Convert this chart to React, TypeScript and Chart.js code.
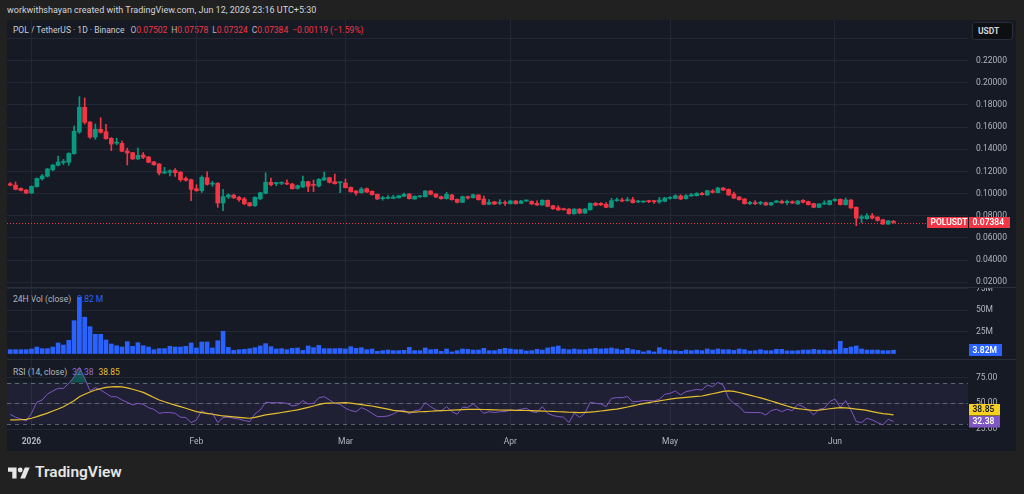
import React, { useEffect, useRef } from 'react';
import { Chart, registerables } from 'chart.js';

Chart.register(...registerables);

// ---------- data (daily candles, day index relative to 1 Jan 2026) ----------
const FIRST_DAY = -4; // 28 Dec 2025

const OPEN = [
  0.1088, 0.1076, 0.1047, 0.1032,
  0.1005, 0.1062, 0.1134, 0.1156, 0.1215, 0.1255, 0.1280, 0.1282, 0.1360, 0.1555,
  0.1778, 0.1645, 0.1510, 0.1580, 0.1558, 0.1498, 0.1455, 0.1453, 0.1384, 0.1369,
  0.1312, 0.1348, 0.1330, 0.1285, 0.1267, 0.1185, 0.1192, 0.1210, 0.1192, 0.1137,
  0.1125, 0.1044, 0.1026, 0.1143, 0.1085, 0.1092, 0.0915, 0.0970, 0.0986, 0.0966,
  0.0952, 0.0917, 0.0890, 0.0953, 0.1002, 0.1102, 0.1090, 0.1093, 0.1088, 0.1086,
  0.1047, 0.1059, 0.1107, 0.1078, 0.1068, 0.1122, 0.1143, 0.1107, 0.1098, 0.1095,
  0.1056, 0.1023, 0.1008, 0.1044, 0.1020, 0.0993, 0.0954, 0.0957, 0.0957, 0.0962,
  0.0975, 0.0996, 0.0951, 0.0971, 0.0972, 0.1023, 0.0996, 0.0972, 0.0954, 0.0987,
  0.0948, 0.0921, 0.0972, 0.0963, 0.0987, 0.0951, 0.0903, 0.0926, 0.0912, 0.0920,
  0.0909, 0.0933, 0.0912, 0.0933, 0.0930, 0.0912, 0.0897, 0.0939, 0.0890, 0.0872,
  0.0863, 0.0860, 0.0818, 0.0860, 0.0824, 0.0854, 0.0912, 0.0912, 0.0903, 0.0876,
  0.0936, 0.0942, 0.0936, 0.0945, 0.0924, 0.0924, 0.0933, 0.0933, 0.0924, 0.0930,
  0.0957, 0.0957, 0.0978, 0.0954, 0.0978, 0.0981, 0.1002, 0.0987, 0.1023, 0.1008,
  0.1050, 0.1038, 0.0996, 0.0969, 0.0951, 0.0909, 0.0918, 0.0912, 0.0918, 0.0897,
  0.0921, 0.0930, 0.0918, 0.0927, 0.0906, 0.0939, 0.0927, 0.0909, 0.0876, 0.0906,
  0.0900, 0.0936, 0.0948, 0.0900, 0.0942, 0.0876, 0.0776, 0.0773, 0.0800, 0.0788,
  0.0764, 0.0725, 0.07502,
];

const HIGH = [
  0.1100, 0.1104, 0.1052, 0.1036,
  0.1070, 0.1140, 0.1172, 0.1226, 0.1262, 0.1339, 0.1308, 0.1368, 0.1610, 0.1874,
  0.1862, 0.1650, 0.1627, 0.1684, 0.1625, 0.1505, 0.1500, 0.1474, 0.1410, 0.1372,
  0.1411, 0.1370, 0.1335, 0.1290, 0.1270, 0.1237, 0.1215, 0.1225, 0.1200, 0.1150,
  0.1130, 0.1080, 0.1160, 0.1197, 0.1110, 0.1100, 0.1038, 0.0998, 0.0995, 0.0975,
  0.0965, 0.0920, 0.0970, 0.1012, 0.1188, 0.1140, 0.1100, 0.1105, 0.1125, 0.1092,
  0.1078, 0.1158, 0.1112, 0.1122, 0.1135, 0.1194, 0.1148, 0.1176, 0.1103, 0.1131,
  0.1060, 0.1028, 0.1055, 0.1050, 0.1025, 0.0997, 0.0975, 0.0982, 0.0985, 0.0985,
  0.1005, 0.1000, 0.0980, 0.0982, 0.1028, 0.1028, 0.1000, 0.0978, 0.1012, 0.0992,
  0.0952, 0.0978, 0.0978, 0.0996, 0.0990, 0.0978, 0.0945, 0.0930, 0.0945, 0.0935,
  0.0940, 0.0938, 0.0938, 0.0942, 0.0935, 0.0935, 0.0945, 0.0943, 0.0895, 0.0890,
  0.0868, 0.0864, 0.0864, 0.0864, 0.0864, 0.0916, 0.0920, 0.0918, 0.0918, 0.0957,
  0.0960, 0.0960, 0.0966, 0.0966, 0.0940, 0.0933, 0.0940, 0.0940, 0.0966, 0.0966,
  0.0972, 0.0990, 0.0990, 0.0990, 0.1002, 0.1008, 0.1011, 0.1030, 0.1035, 0.1056,
  0.1056, 0.1042, 0.1014, 0.0975, 0.0956, 0.0930, 0.0936, 0.0930, 0.0924, 0.0922,
  0.0938, 0.0942, 0.0942, 0.0935, 0.0938, 0.0945, 0.0932, 0.0913, 0.0910, 0.0935,
  0.0940, 0.0955, 0.0952, 0.0960, 0.0946, 0.0880, 0.0806, 0.0820, 0.0820, 0.0792,
  0.0768, 0.0758, 0.07578,
];

const LOW = [
  0.1070, 0.1034, 0.1025, 0.1000,
  0.1000, 0.1058, 0.1120, 0.1150, 0.1205, 0.1250, 0.1262, 0.1255, 0.1355, 0.1544,
  0.1627, 0.1498, 0.1490, 0.1545, 0.1490, 0.1387, 0.1440, 0.1378, 0.1258, 0.1308,
  0.1308, 0.1315, 0.1278, 0.1255, 0.1168, 0.1180, 0.1160, 0.1155, 0.1110, 0.1112,
  0.0935, 0.1020, 0.1010, 0.1075, 0.1065, 0.0876, 0.0845, 0.0955, 0.0955, 0.0930,
  0.0900, 0.0885, 0.0885, 0.0945, 0.0998, 0.1068, 0.1070, 0.1080, 0.1080, 0.1040,
  0.1040, 0.1055, 0.1017, 0.1017, 0.1060, 0.1118, 0.1095, 0.1085, 0.1008, 0.1050,
  0.1012, 0.0985, 0.1003, 0.1008, 0.0985, 0.0945, 0.0940, 0.0952, 0.0953, 0.0958,
  0.0972, 0.0950, 0.0948, 0.0966, 0.0968, 0.0988, 0.0964, 0.0948, 0.0950, 0.0940,
  0.0915, 0.0918, 0.0950, 0.0958, 0.0940, 0.0898, 0.0900, 0.0900, 0.0900, 0.0892,
  0.0905, 0.0905, 0.0908, 0.0928, 0.0902, 0.0893, 0.0893, 0.0880, 0.0858, 0.0848,
  0.0850, 0.0814, 0.0814, 0.0818, 0.0820, 0.0850, 0.0890, 0.0893, 0.0872, 0.0872,
  0.0930, 0.0928, 0.0930, 0.0914, 0.0918, 0.0920, 0.0918, 0.0912, 0.0912, 0.0926,
  0.0950, 0.0953, 0.0945, 0.0950, 0.0975, 0.0978, 0.0986, 0.0984, 0.1005, 0.1005,
  0.1026, 0.0984, 0.0955, 0.0940, 0.0905, 0.0900, 0.0900, 0.0900, 0.0893, 0.0893,
  0.0918, 0.0912, 0.0900, 0.0910, 0.0902, 0.0916, 0.0896, 0.0872, 0.0872, 0.0902,
  0.0896, 0.0930, 0.0896, 0.0896, 0.0865, 0.0710, 0.0737, 0.0770, 0.0770, 0.0750,
  0.0722, 0.0722, 0.07324,
];

const CLOSE = [
  0.1076, 0.1038, 0.1029, 0.1005,
  0.1065, 0.1137, 0.1159, 0.1222, 0.1258, 0.1285, 0.1290, 0.1363, 0.1562, 0.1778,
  0.1643, 0.1510, 0.1580, 0.1553, 0.1495, 0.1447, 0.1458, 0.1381, 0.1366, 0.1312,
  0.1345, 0.1327, 0.1282, 0.1260, 0.1185, 0.1197, 0.1206, 0.1188, 0.1125, 0.1120,
  0.1038, 0.1026, 0.1147, 0.1083, 0.1090, 0.0915, 0.0972, 0.0988, 0.0962, 0.0946,
  0.0908, 0.0890, 0.0966, 0.1008, 0.1102, 0.1080, 0.1095, 0.1097, 0.1086, 0.1044,
  0.1071, 0.1110, 0.1065, 0.1074, 0.1129, 0.1143, 0.1101, 0.1089, 0.1100, 0.1053,
  0.1017, 0.1005, 0.1041, 0.1014, 0.0990, 0.0951, 0.0957, 0.0960, 0.0969, 0.0980,
  0.0993, 0.0954, 0.0975, 0.0975, 0.1023, 0.0993, 0.0969, 0.0954, 0.0993, 0.0945,
  0.0921, 0.0972, 0.0960, 0.0990, 0.0945, 0.0903, 0.0921, 0.0906, 0.0918, 0.0912,
  0.0933, 0.0909, 0.0933, 0.0936, 0.0906, 0.0897, 0.0939, 0.0885, 0.0863, 0.0852,
  0.0854, 0.0818, 0.0860, 0.0824, 0.0860, 0.0912, 0.0894, 0.0897, 0.0876, 0.0936,
  0.0942, 0.0933, 0.0945, 0.0918, 0.0930, 0.0927, 0.0927, 0.0927, 0.0942, 0.0960,
  0.0963, 0.0981, 0.0951, 0.0981, 0.0990, 0.1002, 0.0990, 0.1026, 0.1011, 0.1050,
  0.1032, 0.0987, 0.0960, 0.0945, 0.0909, 0.0921, 0.0909, 0.0921, 0.0897, 0.0918,
  0.0933, 0.0915, 0.0930, 0.0915, 0.0933, 0.0921, 0.0900, 0.0876, 0.0906, 0.0915,
  0.0936, 0.0948, 0.0900, 0.0942, 0.0870, 0.0779, 0.0791, 0.0800, 0.0779, 0.0758,
  0.0725, 0.0754, 0.07384,
];

// 24H volume, millions
const VOLUME = [
  4.4, 4.4, 4.4, 4.4,
  5.2, 7.5, 5.6, 5.6, 7.5, 12.2, 9.8, 15.2, 38, 65,
  42, 31, 22.2, 22.2, 15.6, 11, 9, 7.5, 13.7, 8.3,
  12.5, 9, 7.5, 4.4, 5.6, 5.6, 8.3, 7.5, 7.5, 8.3,
  12.2, 6.4, 13.3, 13.3, 6.4, 14.8, 25.7, 7.1, 3.7, 4.4,
  4.8, 5.6, 6.8, 8.7, 11.4, 7.9, 5.2, 5.6, 4.4, 6,
  6.4, 3.7, 8.7, 6.8, 9.4, 5.6, 5.6, 5.6, 5.8, 5.2,
  7.9, 6, 6.7, 4.4, 5.2, 2.5, 3.3, 4, 3.3, 3.3,
  3.7, 7.1, 3.3, 3.3, 6.4, 4.4, 4.8, 2.5, 5.2, 1.8,
  3.3, 5.2, 4.8, 4, 4, 6, 3.3, 3.3, 4.8, 6,
  5.2, 4.4, 4.4, 2.9, 3.3, 4.8, 4, 6.4, 7.5, 8.7,
  5.2, 4.4, 5.2, 4.4, 4.4, 5.2, 6, 5.2, 5.6, 6.4,
  5.2, 4, 6, 4.4, 3.7, 1.8, 3.3, 1.8, 6.7, 4.4,
  3.3, 3.3, 2.5, 4, 3.3, 4, 3.3, 5.2, 4, 5.2,
  4.4, 4.4, 3.7, 5.2, 4.4, 2.9, 3.3, 4.4, 3.3, 3.3,
  4.8, 4.8, 3, 3, 3.3, 4, 4, 4.8, 4, 4,
  3.3, 4.4, 14.1, 6, 7.5, 8.7, 5.2, 4, 4, 4,
  3.3, 3.3, 3.82,
];

const RSI = [
  39.4, 36.5, 34.8, 32.9,
  40.3, 51, 53.2, 59, 61.9, 64.5, 64.5, 69.3, 75.7, 84.8,
  74.2, 62.2, 65.1, 62.9, 59.7, 56.4, 56.4, 53.2, 51, 48.4,
  50, 49, 45.8, 44.2, 40.3, 41, 41, 40.3, 36.5, 36.2,
  31.3, 33.9, 42.9, 39.7, 40.3, 31.3, 36.2, 36.5, 35.5, 34.8,
  33.2, 32.2, 39.7, 43.5, 51, 50.6, 50.6, 50.6, 50, 47.4,
  48.4, 52.5, 49.4, 50, 55.4, 56.4, 53.2, 50, 49, 45.2,
  42.9, 41.9, 45.8, 43.5, 40.3, 37.1, 37.1, 37.7, 39.7, 42.6,
  43.5, 39.7, 42.9, 43.5, 50.6, 46.8, 43.5, 42.6, 46.8, 41.9,
  39.4, 46.1, 46.1, 49.4, 45.2, 40.3, 41.9, 41, 41.9, 41.9,
  43.5, 42.9, 44.2, 45.2, 41.9, 41, 46.8, 40.3, 38.1, 37.1,
  36.5, 31.3, 40.3, 36.5, 40.3, 51, 50, 49.4, 46.8, 54.8,
  55.5, 55.5, 56.5, 51.6, 51.9, 52.6, 52.6, 52.3, 53.9, 58.7,
  59.7, 61.9, 58.1, 61.3, 62.3, 63.5, 62.9, 67.7, 66.1, 70.3,
  67.7, 54.8, 50, 46.8, 41.3, 41, 41, 41, 38.7, 42.9,
  44.2, 41.9, 44.2, 42.9, 49, 46.8, 43.5, 38.7, 44.2, 45.2,
  51.6, 54.2, 46.1, 52.6, 43.5, 32.3, 31.3, 35.5, 33.9, 31.3,
  29, 34.5, 32.38,
];

const RSI_MA = [
  34.0, 34.0, 34.1, 34.4,
  35.5, 37.0, 38.7, 40.5, 42.5, 44.5, 46.7, 49.5, 52.5, 56.4,
  58.8, 61.0, 62.9, 64.3, 65.4, 66.0, 66.2, 66.0, 65.0, 63.6,
  62.2, 60.6, 58.2, 55.7, 53.2, 51.5, 49.8, 48.2, 46.7, 45.2,
  43.5, 41.9, 41.0, 40.2, 39.4, 38.5, 37.7, 37.3, 36.8, 36.3,
  35.9, 35.5, 36.3, 37.5, 38.7, 39.5, 40.3, 41.1, 41.9, 42.8,
  43.6, 44.8, 46.1, 47.4, 48.7, 50.0, 50.2, 50.3, 50.5, 50.6,
  50.2, 49.5, 48.7, 47.9, 47.4, 46.3, 45.3, 44.3, 43.2, 42.7,
  42.0, 41.4, 41.5, 41.8, 42.0, 42.3, 42.6, 42.8, 43.0, 43.3,
  43.6, 43.8, 44.1, 44.2, 44.1, 44.0, 43.8, 43.7, 43.5, 43.4,
  43.3, 43.2, 43.1, 43.0, 42.9, 42.7, 42.5, 42.3, 42.1, 41.8,
  41.6, 41.3, 41.1, 41.0, 41.2, 41.5, 41.9, 42.5, 43.2, 43.8,
  44.3, 45.3, 46.4, 47.5, 48.6, 49.7, 50.6, 51.5, 52.4, 53.2,
  54.0, 54.8, 55.3, 55.8, 56.3, 56.7, 57.1, 58.2, 59.3, 60.4,
  61.5, 62.0, 61.5, 60.5, 59.2, 57.9, 56.6, 55.3, 53.8, 52.2,
  50.6, 49.0, 47.4, 45.8, 44.9, 44.2, 43.6, 43.0, 43.4, 44.0,
  44.7, 45.3, 45.8, 45.5, 45.0, 44.4, 43.9, 43.1, 42.0, 40.9,
  40.0, 39.4, 38.85,
];

const DAYS = OPEN.map((_, i) => FIRST_DAY + i);
const MONTH_TICKS = [0, 31, 59, 90, 120, 151];
const MONTH_LABELS = ['2026', 'Feb', 'Mar', 'Apr', 'May', 'Jun'];
const PRICE_TICKS = [0.02, 0.04, 0.06, 0.08, 0.1, 0.12, 0.14, 0.16, 0.18, 0.2, 0.22, 0.24];
const PRICE_LABEL_MAX = 0.22; // the 0.24 line has no visible label (under the currency button)
const VOLUME_TICKS = [25, 50, 75];
const RSI_TICKS = [25, 50, 75];
const RSI_BAND = [70, 30];
const RSI_MID = 50;

const SYMBOL = 'POLUSDT';
const TITLE = 'POL / TetherUS · 1D · Binance';
const CHANGE = '−0.00119 (−1.59%)';
const CREDIT = 'workwithshayan created with TradingView.com, Jun 12, 2026 23:16 UTC+5:30';

// ---------- style ----------
const FONT = 'Roboto, "Noto Sans", "DejaVu Sans", sans-serif';
const UP = '#089981';
const DOWN = '#f23645';
const VOL = '#2962ff';
const RSI_COLOR = '#7e57c2';
const MA_COLOR = '#e6bf2e';
const GRID = 'rgba(42,46,57,0.7)';
const AXIS_TEXT = '#b2b5be';
const PANEL_BG = '#161a25';
const OUTER_BG = '#212121';
const AXIS_W = 48;
const X_MIN = -4.604;
const X_MAX = 176.0;
const CANVAS_W = 1009;

const last = CLOSE.length - 1;

function xAxis(showLabels: boolean): any {
  return {
    type: 'linear',
    min: X_MIN,
    max: X_MAX,
    offset: false,
    afterBuildTicks: (s: any) => {
      s.ticks = MONTH_TICKS.map((v) => ({ value: v }));
    },
    afterFit: (s: any) => {
      s.height = showLabels ? 21 : 0;
      s.paddingLeft = 0;
      s.paddingRight = 0;
    },
    grid: { color: GRID, drawTicks: false, offset: false },
    border: { display: false },
    ticks: {
      display: showLabels,
      autoSkip: false,
      maxRotation: 0,
      padding: 7,
      color: AXIS_TEXT,
      font: (c: any) => ({ family: FONT, size: 8.5, weight: c.tick && c.tick.value === 0 ? 'bold' : 'normal' }),
      callback: (v: any) => {
        const k = MONTH_TICKS.indexOf(v);
        return k >= 0 ? MONTH_LABELS[k] : '';
      },
    },
  };
}

function yAxis(min: number, max: number, ticks: number[], fmt: (v: number) => string): any {
  return {
    type: 'linear',
    position: 'right',
    min,
    max,
    afterBuildTicks: (s: any) => {
      s.ticks = ticks.map((v) => ({ value: v }));
    },
    afterFit: (s: any) => {
      s.width = AXIS_W;
      s.paddingTop = 0;
      s.paddingBottom = 0;
    },
    grid: { color: GRID, drawTicks: false },
    border: { display: false },
    ticks: {
      autoSkip: false,
      padding: 8,
      color: AXIS_TEXT,
      font: { family: FONT, size: 8.5 },
      callback: (v: any) => fmt(Number(v)),
    },
  };
}

function baseOptions(y: any, showX: boolean): any {
  return {
    animation: false,
    responsive: false,
    maintainAspectRatio: false,
    events: [],
    layout: { padding: 0 },
    plugins: { legend: { display: false }, tooltip: { enabled: false } },
    scales: { x: xAxis(showX), y },
  };
}

function drawTag(ctx: CanvasRenderingContext2D, x: number, yc: number, w: number, h: number, bg: string, text: string, fg: string) {
  ctx.fillStyle = bg;
  ctx.fillRect(x, Math.round(yc - h / 2), w, h);
  ctx.fillStyle = fg;
  ctx.font = `600 8.5px ${FONT}`;
  ctx.textBaseline = 'middle';
  ctx.textAlign = 'left';
  ctx.fillText(text, x + 3.5, Math.round(yc - h / 2) + h / 2 + 0.5);
}

export default function App() {
  const priceRef = useRef<HTMLCanvasElement>(null);
  const volRef = useRef<HTMLCanvasElement>(null);
  const rsiRef = useRef<HTMLCanvasElement>(null);

  useEffect(() => {
    const charts: Chart[] = [];
    const candleColors = DAYS.map((_, i) => (CLOSE[i] >= OPEN[i] ? UP : DOWN));

    // ---- price pane ----
    const pricePlugin = {
      id: 'lastPrice',
      beforeDatasetsDraw(chart: any) {
        const { ctx, chartArea, scales } = chart;
        const y = Math.round(scales.y.getPixelForValue(CLOSE[last])) + 0.5;
        ctx.save();
        ctx.strokeStyle = DOWN;
        ctx.lineWidth = 1;
        ctx.setLineDash([1, 2]);
        ctx.beginPath();
        ctx.moveTo(chartArea.left, y);
        ctx.lineTo(chartArea.right, y);
        ctx.stroke();
        ctx.restore();
      },
      afterDraw(chart: any) {
        const { ctx, chartArea, scales } = chart;
        const y = scales.y.getPixelForValue(CLOSE[last]);
        ctx.save();
        drawTag(ctx, chartArea.right - 41, y, 41, 11, DOWN, SYMBOL, '#ffffff');
        drawTag(ctx, chartArea.right + 1, y, 41, 11, DOWN, CLOSE[last].toFixed(5), '#ffffff');
        ctx.restore();
      },
    };
    if (priceRef.current) {
      charts.push(
        new Chart(priceRef.current, {
          type: 'bar',
          data: {
            datasets: [
              {
                data: DAYS.map((d, i) => ({ x: d, y: [OPEN[i], CLOSE[i]] })) as any,
                backgroundColor: candleColors,
                barThickness: 4,
                minBarLength: 1,
                grouped: false,
                borderWidth: 0,
                order: 0,
              } as any,
              {
                data: DAYS.map((d, i) => ({ x: d, y: [LOW[i], HIGH[i]] })) as any,
                backgroundColor: candleColors,
                barThickness: 1,
                grouped: false,
                borderWidth: 0,
                order: 1,
              } as any,
            ],
          },
          options: baseOptions(
            yAxis(0.0148, 0.2566, PRICE_TICKS, (v) => (v > PRICE_LABEL_MAX + 1e-9 ? '' : v.toFixed(5))),
            false
          ),
          plugins: [pricePlugin],
        })
      );
    }

    // ---- volume pane ----
    const volPlugin = {
      id: 'volTag',
      afterDraw(chart: any) {
        const { ctx, chartArea, scales } = chart;
        const y = scales.y.getPixelForValue(VOLUME[last]);
        ctx.save();
        drawTag(ctx, chartArea.right + 1, y, 33, 12, VOL, VOLUME[last].toFixed(2) + 'M', '#ffffff');
        ctx.restore();
      },
    };
    if (volRef.current) {
      charts.push(
        new Chart(volRef.current, {
          type: 'bar',
          data: {
            datasets: [
              {
                data: DAYS.map((d, i) => ({ x: d, y: VOLUME[i] })) as any,
                backgroundColor: VOL,
                barThickness: 4,
                grouped: false,
                borderWidth: 0,
              } as any,
            ],
          },
          options: baseOptions(yAxis(-6.37, 75.8, VOLUME_TICKS, (v) => `${v}M`), false),
          plugins: [volPlugin],
        })
      );
    }

    // ---- RSI pane ----
    const rsiPlugin = {
      id: 'rsiBand',
      beforeDatasetsDraw(chart: any) {
        const { ctx, chartArea, scales } = chart;
        const yTop = scales.y.getPixelForValue(RSI_BAND[0]);
        const yBot = scales.y.getPixelForValue(RSI_BAND[1]);
        ctx.save();
        ctx.fillStyle = 'rgba(126,87,194,0.10)';
        ctx.fillRect(chartArea.left, yTop, chartArea.right - chartArea.left, yBot - yTop);
        ctx.strokeStyle = 'rgba(120,123,134,0.75)';
        ctx.lineWidth = 1;
        ctx.setLineDash([4, 4]);
        [RSI_BAND[0], RSI_MID, RSI_BAND[1]].forEach((lv) => {
          const y = Math.round(scales.y.getPixelForValue(lv)) + 0.5;
          ctx.beginPath();
          ctx.moveTo(chartArea.left, y);
          ctx.lineTo(chartArea.right, y);
          ctx.stroke();
        });
        ctx.restore();
      },
      afterDraw(chart: any) {
        const { ctx, chartArea, scales } = chart;
        const h = 11.5;
        const yR = scales.y.getPixelForValue(RSI[last]);
        let yM = scales.y.getPixelForValue(RSI_MA[last]);
        if (yM > yR - h) yM = yR - h;
        ctx.save();
        drawTag(ctx, chartArea.right + 1, yM, 31, h, '#f5d020', RSI_MA[last].toFixed(2), '#131722');
        drawTag(ctx, chartArea.right + 1, yR, 31, h, RSI_COLOR, RSI[last].toFixed(2), '#ffffff');
        ctx.restore();
      },
    };
    if (rsiRef.current) {
      charts.push(
        new Chart(rsiRef.current, {
          type: 'line',
          data: {
            datasets: [
              {
                data: DAYS.map((d, i) => ({ x: d, y: RSI_MA[i] })) as any,
                borderColor: MA_COLOR,
                borderWidth: 1.2,
                pointRadius: 0,
                tension: 0,
                fill: false,
                order: 0,
              } as any,
              {
                data: DAYS.map((d, i) => ({ x: d, y: RSI[i] })) as any,
                borderColor: RSI_COLOR,
                borderWidth: 1,
                pointRadius: 0,
                tension: 0,
                fill: { target: { value: RSI_BAND[0] }, above: 'rgba(8,153,129,0.45)', below: 'rgba(0,0,0,0)' },
                order: 1,
              } as any,
              {
                data: DAYS.map((d, i) => ({ x: d, y: RSI[i] })) as any,
                borderColor: 'rgba(0,0,0,0)',
                borderWidth: 0,
                pointRadius: 0,
                tension: 0,
                fill: { target: { value: RSI_BAND[1] }, above: 'rgba(0,0,0,0)', below: 'rgba(242,54,69,0.45)' },
                order: 2,
              } as any,
            ],
          },
          options: baseOptions(yAxis(24.08, 92.04, RSI_TICKS, (v) => v.toFixed(2)), true),
          plugins: [rsiPlugin],
        })
      );
    }

    return () => charts.forEach((c) => c.destroy());
  }, []);

  const txt: React.CSSProperties = { position: 'absolute', fontFamily: FONT, fontSize: 8.5, lineHeight: '12px', whiteSpace: 'nowrap' };
  const lab = { color: AXIS_TEXT };
  const red = { color: DOWN };

  return (
    <div style={{ position: 'absolute', left: 0, top: 0, width: 1024, height: 494, background: OUTER_BG, overflow: 'hidden' }}>
      <div style={{ ...txt, left: 7, top: 4, color: '#d1d4dc', fontSize: 9 }}>{CREDIT}</div>
      <div style={{ position: 'absolute', left: 7, top: 20, width: CANVAS_W, height: 431, background: PANEL_BG }} />

      <div style={{ ...txt, left: 13, top: 23.5 }}>
        <span style={{ color: '#c9ccd3' }}>{TITLE}</span>
        <span style={{ ...lab, marginLeft: 6 }}>O</span><span style={red}>{OPEN[last].toFixed(5)}</span>
        <span style={{ ...lab, marginLeft: 4 }}>H</span><span style={red}>{HIGH[last].toFixed(5)}</span>
        <span style={{ ...lab, marginLeft: 4 }}>L</span><span style={red}>{LOW[last].toFixed(5)}</span>
        <span style={{ ...lab, marginLeft: 4 }}>C</span><span style={red}>{CLOSE[last].toFixed(5)}</span>
        <span style={{ ...red, marginLeft: 4 }}>{CHANGE}</span>
      </div>
      <div style={{ ...txt, left: 13, top: 293 }}>
        <span style={lab}>24H Vol (close)</span>
        <span style={{ color: VOL, marginLeft: 6 }}>{VOLUME[last].toFixed(2)} M</span>
      </div>
      <div style={{ ...txt, left: 13, top: 366 }}>
        <span style={lab}>RSI (14, close)</span>
        <span style={{ color: '#8e6fd0', marginLeft: 5 }}>{RSI[last].toFixed(2)}</span>
        <span style={{ color: MA_COLOR, marginLeft: 5 }}>{RSI_MA[last].toFixed(2)}</span>
      </div>

      <canvas ref={priceRef} width={CANVAS_W} height={268} style={{ position: 'absolute', left: 7, top: 20, width: CANVAS_W, height: 268 }} />
      <canvas ref={volRef} width={CANVAS_W} height={71} style={{ position: 'absolute', left: 7, top: 288, width: CANVAS_W, height: 71 }} />
      <canvas ref={rsiRef} width={CANVAS_W} height={91} style={{ position: 'absolute', left: 7, top: 360, width: CANVAS_W, height: 91 }} />

      <div style={{ position: 'absolute', left: 7, top: 287, width: CANVAS_W, height: 1, background: '#2a2e39' }} />
      <div style={{ position: 'absolute', left: 7, top: 359, width: CANVAS_W, height: 1, background: '#2a2e39' }} />

      <div
        style={{
          position: 'absolute', left: 972, top: 22, width: 41, height: 18, boxSizing: 'border-box',
          background: '#0e0f13', border: '1px solid #2a2e39', borderRadius: 3, color: '#d1d4dc',
          fontFamily: FONT, fontSize: 8.5, fontWeight: 'bold', lineHeight: '16px', paddingLeft: 5,
        }}
      >
        USDT
      </div>

      <svg style={{ position: 'absolute', left: 8, top: 467 }} width={22} height={12} viewBox="0 4 36 18">
        <path d="M14 22H7V11H0V4h14v18z" fill="#e6e6e6" />
        <circle cx="20" cy="8" r="4" fill="#e6e6e6" />
        <path d="M28 22h-8l7.5-18h8L28 22z" fill="#e6e6e6" />
      </svg>
      <div style={{ position: 'absolute', left: 35, top: 464, fontFamily: FONT, fontSize: 15.5, fontWeight: 600, lineHeight: '16px', color: '#e6e6e6' }}>
        TradingView
      </div>
    </div>
  );
}
